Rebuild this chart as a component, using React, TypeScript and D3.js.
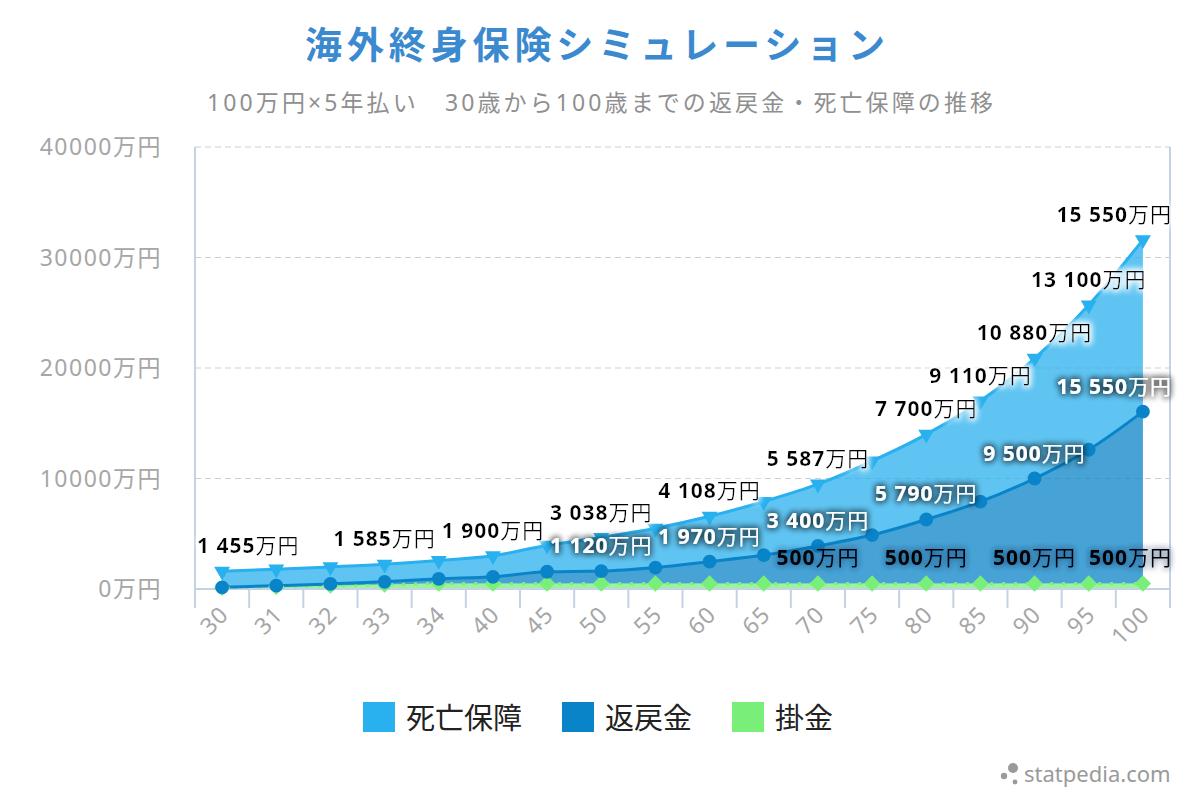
import React, { useEffect, useRef } from "react";
import * as d3 from "d3";

// x categories (age)
const categories = ["30", "31", "32", "33", "34", "40", "45", "50", "55", "60", "65", "70", "75", "80", "85", "90", "95", "100"];

// 掛金 (premium paid, cumulative)
const premium = [100, 200, 300, 400, 500, 500, 500, 500, 500, 500, 500, 500, 500, 500, 500, 500, 500, 500];
// 返戻金 (surrender value)
const surrender = [50, 100, 160, 250, 420, 600, 1060, 1120, 1440, 1970, 2570, 3400, 4380, 5790, 7400, 9500, 12100, 15550];
// 死亡保障 (death benefit)
const death = [1455, 1490, 1540, 1585, 1650, 1900, 2400, 3038, 3550, 4108, 4850, 5587, 6700, 7700, 9110, 10880, 13100, 15550];

// which points show a data label (others were hidden by overlap)
const deathLabelIdx = [0, 3, 5, 7, 9, 11, 13, 14, 15, 16, 17];
const surrenderLabelIdx = [7, 9, 11, 13, 15, 17];
const premiumLabelIdx = [11, 13, 15, 17];

const yTicks = [0, 10000, 20000, 30000, 40000];
const legendNames = ["死亡保障", "返戻金", "掛金"];

const titleText = "海外終身保険シミュレーション";
const subtitleText = "100万円×5年払い　30歳から100歳までの返戻金・死亡保障の推移";

const COLORS = { death: "#29b0ee", surrender: "#0a84c8", premium: "#79ef79" };
const FONT = "'Noto Sans', 'Noto Sans CJK JP', sans-serif";

export default function App() {
  const svgRef = useRef<SVGSVGElement>(null);

  useEffect(() => {
    const width = 1200;
    const height = 800;
    const left = 195, right = 1170, top = 147, bottom = 589;

    const svg = d3.select(svgRef.current);
    svg.selectAll("*").remove();
    svg.attr("width", width).attr("height", height).style("font-family", FONT);

    // filters for label halos
    const defs = svg.append("defs");
    const glow = (id: string, color: string, opacity: number, blur: number) => {
      const f = defs.append("filter").attr("id", id)
        .attr("x", "-20%").attr("y", "-60%").attr("width", "140%").attr("height", "220%");
      f.append("feMorphology").attr("in", "SourceAlpha").attr("operator", "dilate").attr("radius", 1).attr("result", "d");
      f.append("feGaussianBlur").attr("in", "d").attr("stdDeviation", blur).attr("result", "b");
      f.append("feFlood").attr("flood-color", color).attr("flood-opacity", opacity);
      f.append("feComposite").attr("in2", "b").attr("operator", "in").attr("result", "g");
      const m = f.append("feMerge");
      m.append("feMergeNode").attr("in", "g");
      m.append("feMergeNode").attr("in", "g");
      m.append("feMergeNode").attr("in", "SourceGraphic");
    };
    glow("glowWhite", "#ffffff", 1, 3);
    glow("glowDark", "#000000", 0.45, 3);
    glow("glowDarkSoft", "#00335a", 0.25, 3);

    const x = d3.scaleBand<string>().domain(categories).range([left, right]).padding(0);
    const cx = (c: string) => (x(c) as number) + x.bandwidth() / 2;
    const y = d3.scaleLinear().domain([0, 40000]).range([bottom, top]);

    // title & subtitle
    svg.append("text").attr("x", 595).attr("y", 59).attr("text-anchor", "middle")
      .attr("font-size", 37).attr("font-weight", 600).attr("fill", "#3b89cf")
      .attr("textLength", 580).attr("lengthAdjust", "spacing")
      .text(titleText);
    svg.append("text").attr("x", 600).attr("y", 111).attr("text-anchor", "middle")
      .attr("font-size", 23).attr("fill", "#8f8f8f")
      .attr("textLength", 786).attr("lengthAdjust", "spacing")
      .text(subtitleText);

    // grid
    svg.append("g").selectAll("line").data(yTicks.filter((t) => t > 0)).join("line")
      .attr("x1", left).attr("x2", right)
      .attr("y1", (d) => y(d)).attr("y2", (d) => y(d))
      .attr("stroke", "#cfcfcf").attr("stroke-width", 1.2).attr("stroke-dasharray", "6,4");

    // y labels
    svg.append("g").selectAll("text").data(yTicks).join("text")
      .attr("x", 162).attr("y", (d) => y(d) + 8).attr("text-anchor", "end")
      .attr("font-size", 23).attr("letter-spacing", 1.5).attr("fill", "#a6a6a6")
      .text((d) => `${d}万円`);

    // stacked areas
    const rows = categories.map((c, i) => ({ cat: c, premium: premium[i], surrender: surrender[i], death: death[i] }));
    const stack = d3.stack<any>().keys(["premium", "surrender", "death"]);
    const layers = stack(rows);
    const curve = d3.curveMonotoneX;
    const area = d3.area<any>().x((d) => cx(d.data.cat)).y0((d) => y(d[0])).y1((d) => y(d[1])).curve(curve);
    const line = d3.line<any>().x((d) => cx(d.data.cat)).y((d) => y(d[1])).curve(curve);
    const colorOf = (k: string) => (COLORS as any)[k] as string;

    const gArea = svg.append("g");
    layers.forEach((layer) => {
      gArea.append("path").attr("d", area(layer) as string)
        .attr("fill", colorOf(layer.key)).attr("fill-opacity", 0.75);
    });

    // axis lines and ticks
    svg.append("line").attr("x1", left).attr("x2", left).attr("y1", top).attr("y2", bottom)
      .attr("stroke", "#c4d2e6").attr("stroke-width", 2);
    svg.append("line").attr("x1", right).attr("x2", right).attr("y1", top).attr("y2", bottom + 19)
      .attr("stroke", "#c4d2e6").attr("stroke-width", 2);
    svg.append("line").attr("x1", left).attr("x2", right).attr("y1", bottom).attr("y2", bottom)
      .attr("stroke", "#c4d2e6").attr("stroke-width", 2);
    svg.append("g").selectAll("line").data(categories).join("line")
      .attr("x1", (d) => x(d) as number).attr("x2", (d) => x(d) as number)
      .attr("y1", bottom).attr("y2", bottom + 19)
      .attr("stroke", "#c4d2e6").attr("stroke-width", 2);

    // lines
    layers.forEach((layer) => {
      const p = svg.append("path").attr("d", line(layer) as string)
        .attr("fill", "none").attr("stroke", colorOf(layer.key)).attr("stroke-width", 3);
      if (layer.key === "premium") p.attr("stroke-dasharray", "3,9");
    });

    // markers
    const symbolOf: Record<string, any> = {
      premium: d3.symbol().type(d3.symbolDiamond2).size(170),
      surrender: d3.symbol().type(d3.symbolCircle).size(150),
      death: d3.symbol().type(d3.symbolTriangle).size(110),
    };
    layers.forEach((layer) => {
      svg.append("g").selectAll("path").data(layer).join("path")
        .attr("d", symbolOf[layer.key]() as string)
        .attr("transform", (d: any) =>
          `translate(${cx(d.data.cat)},${y(d[1])})` + (layer.key === "death" ? " rotate(180)" : ""))
        .attr("fill", colorOf(layer.key));
    });

    // data labels
    const fmt = d3.formatLocale({ decimal: ".", thousands: " ", grouping: [3], currency: ["", ""] }).format(",");
    const addLabels = (key: string, idx: number[], fill: string, filter: string) => {
      const layer = layers.find((l) => l.key === key)!;
      const g = svg.append("g");
      idx.forEach((i) => {
        const d: any = layer[i];
        const val = (rows[i] as any)[key] as number;
        const px = cx(d.data.cat);
        const t = g.append("text").attr("y", y(d[1]) - 18).attr("font-size", 21)
          .attr("letter-spacing", 1).attr("fill", fill).attr("filter", `url(#${filter})`);
        t.append("tspan").attr("font-weight", "bold").text(fmt(val));
        t.append("tspan").attr("font-weight", "normal").text("万円");
        const w = (t.node() as SVGTextElement).getComputedTextLength();
        let x0 = px - w / 2;
        if (x0 < left + 2) x0 = left + 2;
        if (x0 + w > right + 2) x0 = right + 2 - w;
        t.attr("x", x0);
      });
    };
    addLabels("premium", premiumLabelIdx, "#000000", "glowDarkSoft");
    addLabels("surrender", surrenderLabelIdx, "#ffffff", "glowDark");
    addLabels("death", deathLabelIdx, "#000000", "glowWhite");

    // x labels
    svg.append("g").selectAll("text").data(categories).join("text")
      .attr("transform", (d) => `translate(${cx(d) + 8},${bottom + 27}) rotate(-45)`)
      .attr("text-anchor", "end").attr("font-size", 23).attr("letter-spacing", 1)
      .attr("fill", "#a6a6a6").text((d) => d);

    // legend
    const legendColors = [COLORS.death, COLORS.surrender, COLORS.premium];
    const lg = svg.append("g");
    const items: { g: any; w: number }[] = [];
    legendNames.forEach((name, i) => {
      const g = lg.append("g");
      g.append("rect").attr("x", 0).attr("y", 702).attr("width", 32).attr("height", 30).attr("fill", legendColors[i]);
      const t = g.append("text").attr("x", 43).attr("y", 729).attr("font-size", 29).attr("fill", "#222").text(name);
      const w = 43 + (t.node() as SVGTextElement).getComputedTextLength();
      items.push({ g, w });
    });
    const gap = 40;
    const total = d3.sum(items, (d) => d.w) + gap * (items.length - 1);
    let lx = 598 - total / 2;
    items.forEach((it) => {
      it.g.attr("transform", `translate(${lx},0)`);
      lx += it.w + gap;
    });

    // watermark
    const wm = svg.append("g").attr("fill", "#9a9a9a");
    wm.append("circle").attr("cx", 1004).attr("cy", 776).attr("r", 3.2);
    wm.append("circle").attr("cx", 1013).attr("cy", 768).attr("r", 5);
    wm.append("circle").attr("cx", 1015).attr("cy", 782).attr("r", 2.4);
    wm.append("text").attr("x", 1024).attr("y", 782).attr("font-size", 22).text("statpedia.com");
  }, []);

  return <svg ref={svgRef} style={{ position: "absolute", left: 0, top: 0, display: "block" }}></svg>;
}
